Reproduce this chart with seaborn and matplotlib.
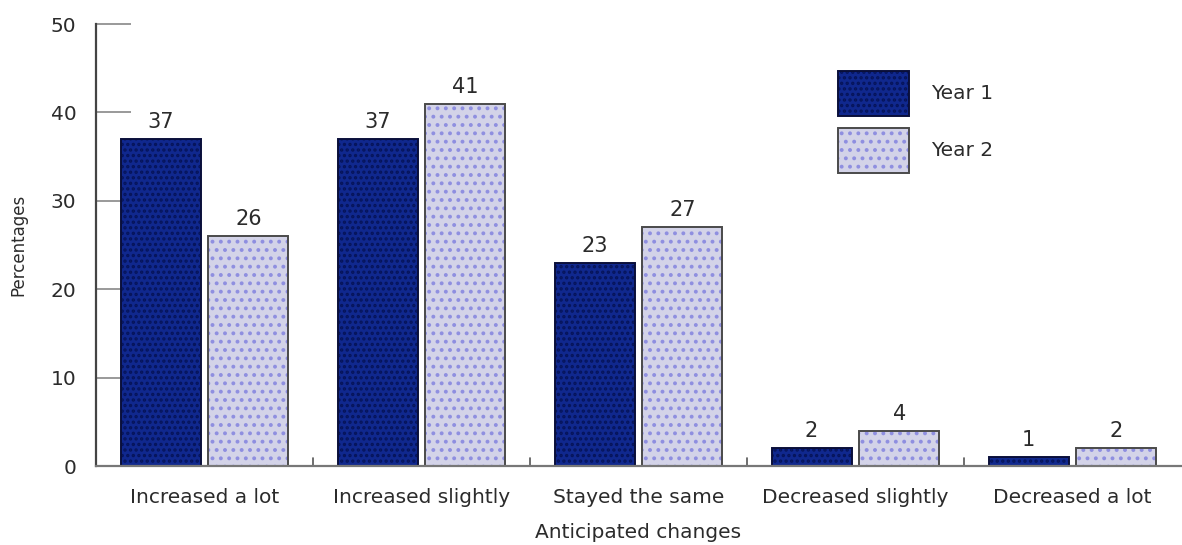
import matplotlib
matplotlib.use("Agg")
import matplotlib.pyplot as plt
from matplotlib.patches import Rectangle
from matplotlib.legend_handler import HandlerTuple
import seaborn as sns
import pandas as pd

categories = ["Increased a lot", "Increased slightly", "Stayed the same",
              "Decreased slightly", "Decreased a lot"]
year1 = [37, 37, 23, 2, 1]
year2 = [26, 41, 27, 4, 2]
series_names = ["Year 1", "Year 2"]
y_ticks = [0, 10, 20, 30, 40, 50]

df = pd.DataFrame({
    "change": categories * 2,
    "pct": year1 + year2,
    "year": [series_names[0]] * len(categories) + [series_names[1]] * len(categories),
})

sns.set_theme(style="white")
plt.rcParams["font.family"] = ["DejaVu Sans"]
plt.rcParams["hatch.linewidth"] = 1.6

text_col = "#2b2b2b"
fills = {"Year 1": "#10288e", "Year 2": "#d3d3e8"}
dots = {"Year 1": "#06145a", "Year 2": "#8f8fe0"}
hatches = {"Year 1": "...", "Year 2": ".."}
edges = {"Year 1": "#0a0f3a", "Year 2": "#4a4a4a"}

fig = plt.figure(figsize=(11.82, 5.45), dpi=100)
ax = fig.add_axes([96 / 1182, 79 / 545, 1085 / 1182, 442 / 545])

sns.barplot(data=df, x="change", y="pct", hue="year", order=categories,
            hue_order=series_names, palette=fills, width=0.81, gap=0.09,
            linewidth=0, saturation=1, ax=ax, legend=False)

# Dotted texture plus a separate outline for each bar
for container, name in zip(ax.containers, series_names):
    for bar in container:
        bar.set_hatch(hatches[name])
        bar.set_edgecolor(dots[name])
        bar.set_linewidth(0)
        ax.add_patch(Rectangle(bar.get_xy(), bar.get_width(), bar.get_height(),
                               fill=False, edgecolor=edges[name], linewidth=1.4,
                               zorder=bar.get_zorder() + 0.1))
    ax.bar_label(container, labels=[str(int(round(b.get_height()))) for b in container],
                 padding=5, fontsize=15, color=text_col)

ax.set_xlim(-0.5, len(categories) - 0.5)
ax.set_ylim(0, 50)
ax.set_yticks(y_ticks)
ax.set_yticklabels([str(t) for t in y_ticks], fontsize=14.5, color=text_col)
ax.tick_params(axis="y", left=True, direction="in", length=25, width=1.2,
               color="#888888", pad=14)

# Category labels under group centers; tick marks at group boundaries
ax.set_xticks(range(len(categories)))
ax.set_xticklabels(categories, fontsize=14.5, color=text_col)
ax.tick_params(axis="x", bottom=False, length=0, pad=16)
for b in [i + 0.5 for i in range(len(categories) - 1)]:
    ax.axvline(b, ymin=0, ymax=8 / 442, color="#555555", linewidth=1.2)

ax.set_xlabel("Anticipated changes", fontsize=14.5, color=text_col, labelpad=11)
ax.set_ylabel("Percentages", fontsize=12, color=text_col, labelpad=17)

for side in ["top", "right"]:
    ax.spines[side].set_visible(False)
ax.spines["left"].set_color("#444444")
ax.spines["left"].set_linewidth(1.6)
ax.spines["bottom"].set_color("#777777")
ax.spines["bottom"].set_linewidth(1.6)

# Legend with large swatches: textured fill overlaid by its outline
handles = []
for n in series_names:
    fill = Rectangle((0, 0), 1, 1, facecolor=fills[n], hatch=hatches[n],
                     edgecolor=dots[n], linewidth=0)
    outline = Rectangle((0, 0), 1, 1, fill=False, edgecolor=edges[n], linewidth=1.4)
    handles.append((fill, outline))
leg = ax.legend(handles, series_names, loc="upper left",
                handler_map={tuple: HandlerTuple(ndivide=1, pad=0)},
                bbox_to_anchor=(820 / 1182, 1 - 53 / 545), bbox_transform=fig.transFigure,
                frameon=False, fontsize=14.5, handlelength=3.5, handleheight=3.05,
                labelspacing=0.6, handletextpad=1.1)
for t in leg.get_texts():
    t.set_color(text_col)

fig.savefig("out.png", dpi=100, facecolor="white")
